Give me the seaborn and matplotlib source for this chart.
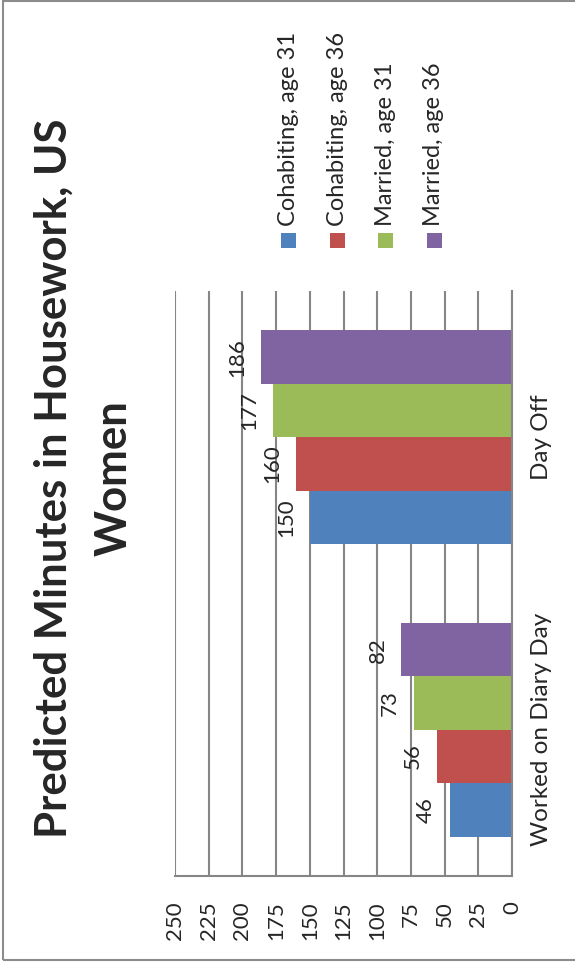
import pandas as pd
import matplotlib.pyplot as plt
import seaborn as sns
from matplotlib.patches import Rectangle

# Data
categories = ['Worked on Diary Day', 'Day Off']
series = ['Cohabiting, age 31', 'Cohabiting, age 36', 'Married, age 31', 'Married, age 36']
cohab_31 = [46, 150]
cohab_36 = [56, 160]
married_31 = [73, 177]
married_36 = [82, 186]
colors = ['#4F81BD', '#C0504D', '#9BBB59', '#8064A2']
ticks = [0, 25, 50, 75, 100, 125, 150, 175, 200, 225, 250]

sns.set_style("white")
plt.rcParams['font.family'] = ['Lato', 'DejaVu Sans']

rows = []
for name, vals in zip(series, [cohab_31, cohab_36, married_31, married_36]):
    for cat, v in zip(categories, vals):
        rows.append({'situation': cat, 'group': name, 'minutes': v})
df = pd.DataFrame(rows)

W, H = 575, 964
fig = plt.figure(figsize=(W / 100, H / 100), dpi=100)

# plot area in pixel terms: x 175..512, y 291..876
ax = fig.add_axes([175 / W, 1 - 876 / H, (512 - 175) / W, (876 - 291) / H])

sns.barplot(data=df, x='minutes', y='situation', hue='group',
            order=['Day Off', 'Worked on Diary Day'],
            hue_order=series[::-1], palette=colors[::-1],
            orient='h', width=0.73, gap=0, saturation=1,
            linewidth=0, legend=False, ax=ax)

ax.set_xlim(250, 0)
ax.set_ylim(1.5, -0.5)
ax.set_xticks(ticks)
ax.set_xticklabels([str(t) for t in ticks], rotation=90, fontsize=16)
ax.tick_params(axis='x', length=0, pad=18)
ax.yaxis.tick_right()
ax.tick_params(axis='y', length=0, pad=14)
for lab in ax.get_yticklabels():
    lab.set_rotation(90)
    lab.set_fontsize(17.5)
    lab.set_va('center')
ax.set_xlabel('')
ax.set_ylabel('')

ax.grid(axis='x', color='#868686', linewidth=1.5)
ax.grid(axis='y', visible=False)
ax.set_axisbelow(True)
for side in ['top', 'left']:
    ax.spines[side].set_visible(False)
for side in ['bottom', 'right']:
    ax.spines[side].set_color('#868686')
    ax.spines[side].set_linewidth(1.5)

for c in ax.containers:
    ax.bar_label(c, padding=10, rotation=90, fontsize=16)

# title, rotated like the rest of the chart
fig.text(84 / W, 1 - 478 / H, 'Predicted Minutes in Housework, US\nWomen',
         rotation=90, ha='center', va='center', fontsize=31.5,
         fontweight='bold', linespacing=1.6, multialignment='center')

# legend drawn by hand so the text can be rotated
legend_x = [288.5, 337, 385, 434]
for x, name, col in zip(legend_x, series, colors):
    fig.add_artist(Rectangle(((x - 7.5) / W, 1 - 248 / H), 15 / W, 15 / H,
                             transform=fig.transFigure, color=col, lw=0))
    fig.text(x / W, 1 - 226 / H, name, rotation=90, ha='center',
             va='bottom', fontsize=17)

# chart frame
fig.add_artist(Rectangle((3 / W, 4 / H), 1.2, 1 - 5 / H, transform=fig.transFigure,
                         fill=False, edgecolor='#8c8c8c', lw=1.5))

fig.savefig('out.png', dpi=100)
